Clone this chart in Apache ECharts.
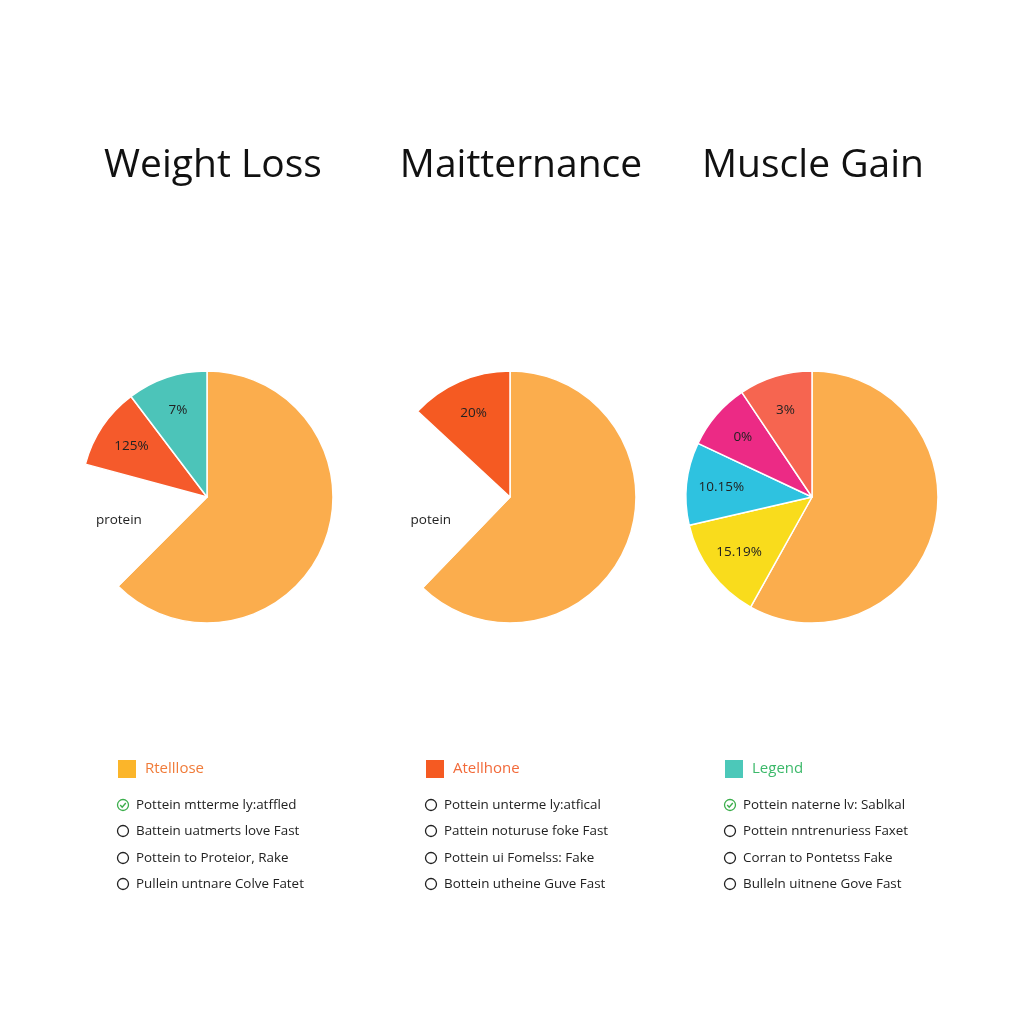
<!DOCTYPE html>
<html>
<head>
<meta charset="utf-8">
<script src="https://cdn.jsdelivr.net/npm/echarts@6/dist/echarts.min.js"></script>
<style>
  html, body { margin: 0; padding: 0; background: #fff; }
  #main { width: 1024px; height: 1024px; }
</style>
</head>
<body>
<div id="main"></div>
<script>
// chart titles
var titles = ['Weight Loss', 'Maitternance', 'Muscle Gain'];

// slices, clockwise from 12 o'clock (share of the full circle)
var lossNames  = ['carbs', 'protein', 'fat', 'fiber'];
var lossValues = [62.5, 16.7, 10.5, 10.3];
var lossLabels = ['', 'protein', '125%', '7%'];
var lossColors = ['#fbad4d', '#ffffff', '#f55a2b', '#4cc4b9'];

var mainNames  = ['carbs', 'protein', 'fat'];
var mainValues = [62.2, 24.7, 13.1];
var mainLabels = ['', 'potein', '20%'];
var mainColors = ['#fbad4d', '#ffffff', '#f55a22'];

var gainNames  = ['carbs', 'sugar', 'fiber', 'sodium', 'fat'];
var gainValues = [58.1, 13.3, 10.6, 8.6, 9.4];
var gainLabels = ['', '15.19%', '10.15%', '0%', '3%'];
var gainColors = ['#fbad4d', '#f9dc1c', '#2ec2e0', '#ec2a85', '#f66550'];

// legend blocks under each pie
var legendHeads  = ['Rtelllose', 'Atellhone', 'Legend'];
var legendSwatch = ['#fbb52a', '#f55a22', '#4cc8b9'];
var legendHeadColor = ['#f07c3a', '#f26a3a', '#3cb96a'];
var legendItems = [
  ['Pottein mtterme ly:atffled', 'Battein uatmerts love Fast', 'Pottein to Proteior, Rake', 'Pullein untnare Colve Fatet'],
  ['Pottein unterme ly:atfical', 'Pattein noturuse foke Fast', 'Pottein ui Fomelss: Fake', 'Bottein utheine Guve Fast'],
  ['Pottein naterne lv: Sablkal', 'Pottein nntrenuriess Faxet', 'Corran to Pontetss Fake', 'Bulleln uitnene Gove Fast']
];
var legendChecked = [[true, false, false, false], [false, false, false, false], [true, false, false, false]];

var centersX = [207, 510, 812];
var centerY = 497;
var R = 126;
var FONT = '"Open Sans", "Noto Sans", sans-serif';

function makeData(names, values, colors) {
  return names.map(function (n, i) {
    return { name: n, value: values[i], itemStyle: { color: colors[i] } };
  });
}

var pies = [
  [lossNames, lossValues, lossLabels, lossColors],
  [mainNames, mainValues, mainLabels, mainColors],
  [gainNames, gainValues, gainLabels, gainColors]
];

var series = [];
pies.forEach(function (p, k) {
  var data = makeData(p[0], p[1], p[3]);
  // the visible pie
  series.push({
    type: 'pie',
    center: [centersX[k], centerY],
    radius: [0, R],
    startAngle: 90,
    clockwise: true,
    silent: true,
    animation: false,
    label: { show: false },
    labelLine: { show: false },
    itemStyle: { borderColor: '#ffffff', borderWidth: 1.5 },
    data: data
  });
  // transparent ring used only to place labels further out
  var labelData = p[0].map(function (n, i) { return { name: n, value: p[1][i] }; });
  if (k === 1) {
    // the white slice label sits lower in the middle chart
    labelData[1].label = { offset: [12, 21] };
  }
  series.push({
    type: 'pie',
    center: [centersX[k], centerY],
    radius: [R * 0.4, R],
    startAngle: 90,
    clockwise: true,
    silent: true,
    animation: false,
    itemStyle: { color: 'rgba(0,0,0,0)' },
    labelLine: { show: false },
    label: {
      show: true,
      position: 'inside',
      fontFamily: FONT,
      fontSize: 13.5,
      color: '#222',
      formatter: function (prm) { return p[2][prm.dataIndex]; }
    },
    data: labelData
  });
});

var graphics = [];
titles.forEach(function (t, k) {
  graphics.push({
    type: 'text',
    x: [213, 521, 813][k],
    y: 166,
    style: {
      text: t,
      fontFamily: FONT,
      fontSize: 39,
      fill: '#111',
      align: 'center',
      verticalAlign: 'middle'
    }
  });
});

var legendX = [118, 426, 725];
var rowY = [804, 830, 857, 883];
legendHeads.forEach(function (h, k) {
  var x0 = legendX[k];
  graphics.push({
    type: 'rect',
    shape: { x: x0, y: 760, width: 18, height: 18 },
    style: { fill: legendSwatch[k] }
  });
  graphics.push({
    type: 'text',
    x: x0 + 27,
    y: 769,
    style: { text: h, fontFamily: FONT, fontSize: 15, fill: legendHeadColor[k], verticalAlign: 'middle' }
  });
  legendItems[k].forEach(function (txt, i) {
    var cx = x0 + 5, cy = rowY[i] + 1;
    var on = legendChecked[k][i];
    graphics.push({
      type: 'circle',
      shape: { cx: cx, cy: cy, r: 5.5 },
      style: { fill: 'none', stroke: on ? '#3cae4c' : '#222', lineWidth: 1.3 }
    });
    if (on) {
      graphics.push({
        type: 'polyline',
        shape: { points: [[cx - 2.8, cy], [cx - 0.8, cy + 2.2], [cx + 2.8, cy - 2]] },
        style: { fill: 'none', stroke: '#3cae4c', lineWidth: 1.4 }
      });
    }
    graphics.push({
      type: 'text',
      x: x0 + 18,
      y: cy,
      style: { text: txt, fontFamily: FONT, fontSize: 13.4, fill: '#222', verticalAlign: 'middle' }
    });
  });
});

var myChart = echarts.init(document.getElementById('main'));
myChart.setOption({
  backgroundColor: '#ffffff',
  animation: false,
  series: series,
  graphic: graphics
});
</script>
</body>
</html>
